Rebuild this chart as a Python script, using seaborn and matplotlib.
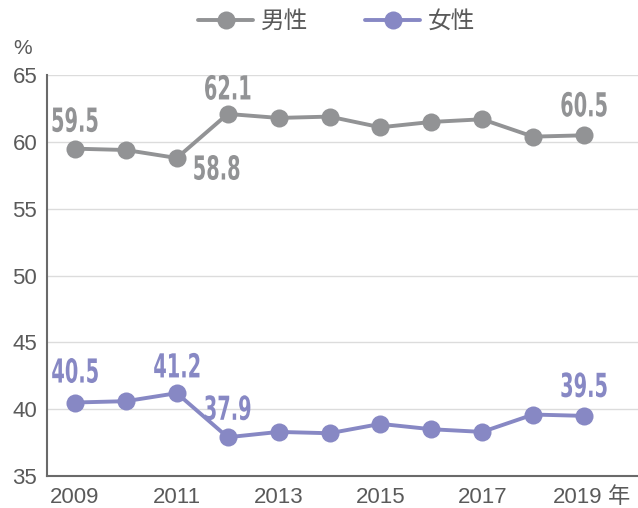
import pandas as pd
import matplotlib.pyplot as plt
import seaborn as sns
from matplotlib.textpath import TextPath
from matplotlib.patches import PathPatch
from matplotlib.font_manager import FontProperties
from matplotlib.transforms import Affine2D, ScaledTranslation

# data
years = [2009, 2010, 2011, 2012, 2013, 2014, 2015, 2016, 2017, 2018, 2019]
men = [59.5, 59.4, 58.8, 62.1, 61.8, 61.9, 61.1, 61.5, 61.7, 60.4, 60.5]
women = [40.5, 40.6, 41.2, 37.9, 38.3, 38.2, 38.9, 38.5, 38.3, 39.6, 39.5]
series_names = ['男性', '女性']
xtick_years = [2009, 2011, 2013, 2015, 2017, 2019]
xtick_labels = ['2009', '2011', '2013', '2015', '2017', '2019']
yticks = [35, 40, 45, 50, 55, 60, 65]

gray = '#929395'
purple = '#8788c4'
text_col = '#5a5a5a'

df = pd.DataFrame({
    'year': years * 2,
    'value': men + women,
    'sex': [series_names[0]] * len(years) + [series_names[1]] * len(years),
})

sns.set_style('white')
plt.rcParams['font.family'] = ['Liberation Sans', 'Noto Sans CJK JP', 'DejaVu Sans']

fig = plt.figure(figsize=(6.38, 5.08), dpi=100)
ax = fig.add_axes([0.0737, 0.063, 0.9263, 0.789])

sns.lineplot(data=df, x='year', y='value', hue='sex', palette=[gray, purple],
             marker='o', markersize=13, markeredgewidth=0, linewidth=2.8, ax=ax)

ax.set_xlim(2008.45, 2020.06)
ax.set_ylim(35, 65)
ax.set_yticks(yticks)
ax.set_xticks(xtick_years)
ax.set_xticklabels(xtick_labels)
ax.set_xlabel('')
ax.set_ylabel('')
ax.grid(axis='y', color='#dcdcdc', linewidth=1)
ax.set_axisbelow(True)
for s in ['top', 'right']:
    ax.spines[s].set_visible(False)
for s in ['left', 'bottom']:
    ax.spines[s].set_color('#6a6a6a')
    ax.spines[s].set_linewidth(1.5)
ax.tick_params(axis='both', length=0, labelsize=16, colors=text_col)
ax.tick_params(axis='y', pad=7)
ax.tick_params(axis='x', pad=8)
last = ax.get_xticklabels()[-1]
last.set_transform(last.get_transform() + Affine2D().translate(-6, 0))

# unit marks
fig.text(0.036, 0.905, '%', fontsize=15, color=text_col, ha='center', va='center')
ax.annotate('年', xy=(2019, 0), xycoords=('data', 'axes fraction'),
            xytext=(17, -8), textcoords='offset points', fontsize=16,
            color=text_col, ha='left', va='top')

# value labels in a condensed bold face (outline text squeezed horizontally)
lab_prop = FontProperties(family='DejaVu Sans', weight='bold')
ref = TextPath((0, 0), '59.5', size=1, prop=lab_prop).get_extents()
lab_h = 25.0
lab_sy = lab_h / ref.height
lab_sx = lab_sy * (45.0 / lab_h) / (ref.width / ref.height)


def value_label(x, y, dx, dy, color):
    tp = TextPath((0, 0), f'{y:.1f}', size=1, prop=lab_prop)
    bb = tp.get_extents()
    tr = (Affine2D()
          .translate(-(bb.x0 + bb.width / 2), -(bb.y0 + bb.height / 2))
          .scale(lab_sx, lab_sy)
          .translate(dx, dy)
          + ScaledTranslation(x, y, ax.transData))
    ax.add_artist(PathPatch(tp, transform=tr, facecolor=color, edgecolor='none',
                            zorder=5, clip_on=False))


# pixel offsets of label centres from their point
men_labels = {2009: (0, 29), 2011: (40, -9.5), 2012: (0, 26.5), 2019: (0, 31)}
women_labels = {2009: (0, 32), 2011: (0, 28), 2012: (0, 29.5), 2019: (0, 31)}
for vals, labs, col in [(men, men_labels, gray), (women, women_labels, purple)]:
    for yr, off in labs.items():
        value_label(yr, vals[years.index(yr)], off[0], off[1], col)

handles, labels = ax.get_legend_handles_labels()
ax.legend(handles, labels, loc='center', bbox_to_anchor=(0.528, 0.957),
          bbox_transform=fig.transFigure, ncol=2, frameon=False, fontsize=17,
          handlelength=2.33, columnspacing=2.4, handletextpad=0.34,
          labelcolor=text_col, borderpad=0, borderaxespad=0)

plt.savefig('out.png', dpi=100)
